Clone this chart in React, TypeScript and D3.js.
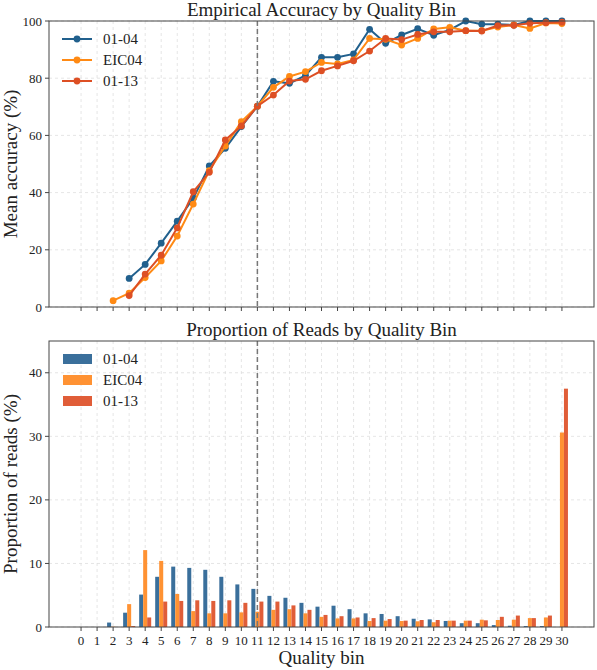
import React from 'react';
import * as d3 from 'd3';

const bins = d3.range(0, 31);
const seriesNames = ['01-04', 'EIC04', '01-13'];
const lineColors = ['#21608d', '#ff8a14', '#dd4f24'];
const barColors = ['#3a6f9b', '#ff9233', '#e05d38'];

// mean accuracy (%) per quality bin, null = no data
const acc0104 = [null, null, null, 10.0, 14.9, 22.3, 30.0, 38.0, 49.3, 55.5, 63.1, 70.2, 78.9, 78.2, 81.0, 87.3, 87.3, 88.5, 97.1, 92.2, 95.1, 97.3, 95.0, 96.9, 100, 98.9, 98.9, 98.6, 100, 100, 100];
const accEIC04 = [null, null, 2.2, 4.8, 10.3, 16.1, 24.8, 36.0, 47.7, 56.3, 64.8, 70.2, 76.8, 80.6, 82.3, 85.5, 85.0, 86.4, 93.9, 93.6, 91.6, 93.9, 97.2, 97.8, 96.6, 96.6, 97.9, 98.6, 97.4, 99.3, 99.1];
const acc0113 = [null, null, null, 4.0, 11.5, 18.1, 27.7, 40.3, 47.1, 58.4, 63.3, 70.2, 74.1, 79.0, 79.6, 82.6, 84.3, 86.1, 89.5, 93.9, 93.5, 95.3, 96.2, 96.2, 96.6, 96.5, 98.4, 98.5, 99.2, 99.4, 99.6];

// proportion of reads (%) per quality bin
const prop0104 = [0, 0, 0.7, 2.25, 5.1, 7.9, 9.5, 9.3, 9.0, 7.9, 6.7, 6.0, 4.9, 4.6, 3.8, 3.2, 3.35, 2.8, 2.15, 2.05, 1.7, 1.3, 1.2, 0.95, 0.6, 0.6, 0.3, 0.2, 0.15, 0.15, 0];
const propEIC04 = [0, 0, 0.05, 3.6, 12.1, 10.4, 5.2, 2.5, 2.15, 2.15, 2.3, 2.4, 2.7, 2.8, 2.15, 1.6, 1.35, 1.35, 0.95, 1.0, 0.95, 0.9, 0.75, 1.0, 1.0, 1.15, 1.1, 1.15, 1.4, 1.5, 30.6];
const prop0113 = [0, 0, 0, 0.15, 1.5, 4.0, 4.1, 4.2, 4.1, 4.2, 3.8, 4.0, 4.0, 3.4, 2.7, 1.9, 1.7, 1.5, 1.4, 1.25, 1.0, 1.1, 1.1, 1.0, 1.0, 1.05, 1.6, 1.8, 1.4, 1.8, 37.5];

const accSeries = [acc0104, accEIC04, acc0113];
const propSeries = [prop0104, propEIC04, prop0113];
const accTicks = [0, 20, 40, 60, 80, 100];
const propTicks = [0, 10, 20, 30, 40];
const cutoff = 11;

const W = 597, H = 670;
const left = 49, right = 594;
const top1 = 21, bot1 = 307;
const top2 = 341, bot2 = 627;
const font = "'Liberation Serif', serif";
const axisColor = '#444';
const gridColor = '#dedede';
const tickSize = 13;
const labelSize = 19;

export default function App() {
  const x = d3.scaleLinear().domain([-2, 32]).range([left, right]);
  const y1 = d3.scaleLinear().domain([0, 100]).range([bot1, top1]);
  const y2 = d3.scaleLinear().domain([0, 45]).range([bot2, top2]);
  const barW = x(0.25) - x(0);

  const line = d3.line<number | null>()
    .defined(d => d !== null)
    .x((_, i) => x(bins[i]))
    .y(d => y1(d as number));

  const grid = (y: d3.ScaleLinear<number, number>, ticks: number[], t: number, b: number) => (
    <g>
      {bins.map(b0 => (
        <line key={'gx' + b0} x1={x(b0)} x2={x(b0)} y1={t} y2={b} stroke={gridColor} strokeWidth={0.8} strokeDasharray="3,3" />
      ))}
      {ticks.map(v => (
        <line key={'gy' + v} x1={left} x2={right} y1={y(v)} y2={y(v)} stroke={gridColor} strokeWidth={0.8} strokeDasharray="3,3" />
      ))}
    </g>
  );

  const axes = (y: d3.ScaleLinear<number, number>, ticks: number[], t: number, b: number, showX: boolean) => (
    <g style={{ fontFamily: font }} fill="#222">
      {ticks.map(v => (
        <g key={'yt' + v}>
          <line x1={left - 4} x2={left} y1={y(v)} y2={y(v)} stroke={axisColor} strokeWidth={1} />
          <text x={left - 7} y={y(v)} dy="0.35em" textAnchor="end" fontSize={tickSize}>{v}</text>
        </g>
      ))}
      {bins.map(b0 => (
        <g key={'xt' + b0}>
          <line x1={x(b0)} x2={x(b0)} y1={b} y2={b + 4} stroke={axisColor} strokeWidth={1} />
          {showX && <text x={x(b0)} y={b + 18} textAnchor="middle" fontSize={tickSize}>{b0}</text>}
        </g>
      ))}
      <line x1={x(cutoff)} x2={x(cutoff)} y1={t} y2={b} stroke="#777" strokeWidth={1.5} strokeDasharray="5,3" />
      <rect x={left} y={t} width={right - left} height={b - t} fill="none" stroke={axisColor} strokeWidth={1} />
    </g>
  );

  return (
    <div style={{ position: 'absolute', left: 0, top: 0 }}>
      <svg width={W} height={H} style={{ display: 'block', background: '#fff', fontFamily: font }}>
        {/* top: accuracy */}
        {grid(y1, accTicks, top1, bot1)}
        {accSeries.map((s, k) => (
          <g key={'acc' + k}>
            <path d={line(s) || ''} fill="none" stroke={lineColors[k]} strokeWidth={2} />
            {s.map((v, i) => v === null ? null : (
              <circle key={i} cx={x(bins[i])} cy={y1(v)} r={3.4} fill={lineColors[k]} />
            ))}
          </g>
        ))}
        {axes(y1, accTicks, top1, bot1, false)}
        <text x={(left + right) / 2} y={16} textAnchor="middle" style={{ fontFamily: font }} fontSize={labelSize} fill="#222">Empirical Accuracy by Quality Bin</text>
        <text transform={`translate(17,${(top1 + bot1) / 2}) rotate(-90)`} textAnchor="middle" style={{ fontFamily: font }} fontSize={labelSize} fill="#222">Mean accuracy (%)</text>
        <g style={{ fontFamily: font }} fontSize={15} fill="#222">
          {seriesNames.map((n, k) => (
            <g key={'l1' + k} transform={`translate(0,${39 + k * 21})`}>
              <line x1={62} x2={92} y1={0} y2={0} stroke={lineColors[k]} strokeWidth={2} />
              <circle cx={77} cy={0} r={3.4} fill={lineColors[k]} />
              <text x={103} y={0} dy="0.35em">{n}</text>
            </g>
          ))}
        </g>

        {/* bottom: proportion */}
        {grid(y2, propTicks, top2, bot2)}
        {propSeries.map((s, k) => (
          <g key={'prop' + k}>
            {s.map((v, i) => (
              <rect key={i} x={x(bins[i] + (k - 1) * 0.25) - barW / 2} y={y2(v)} width={barW} height={bot2 - y2(v)} fill={barColors[k]} />
            ))}
          </g>
        ))}
        {axes(y2, propTicks, top2, bot2, true)}
        <text x={(left + right) / 2} y={336} textAnchor="middle" style={{ fontFamily: font }} fontSize={labelSize} fill="#222">Proportion of Reads by Quality Bin</text>
        <text transform={`translate(17,${(top2 + bot2) / 2}) rotate(-90)`} textAnchor="middle" style={{ fontFamily: font }} fontSize={labelSize} fill="#222">Proportion of reads (%)</text>
        <text x={(left + right) / 2} y={664} textAnchor="middle" style={{ fontFamily: font }} fontSize={labelSize} fill="#222">Quality bin</text>
        <g style={{ fontFamily: font }} fontSize={15} fill="#222">
          {seriesNames.map((n, k) => (
            <g key={'l2' + k} transform={`translate(0,${359 + k * 21})`}>
              <rect x={63} y={-5} width={29} height={10} fill={barColors[k]} />
              <text x={103} y={0} dy="0.35em">{n}</text>
            </g>
          ))}
        </g>
      </svg>
    </div>
  );
}
